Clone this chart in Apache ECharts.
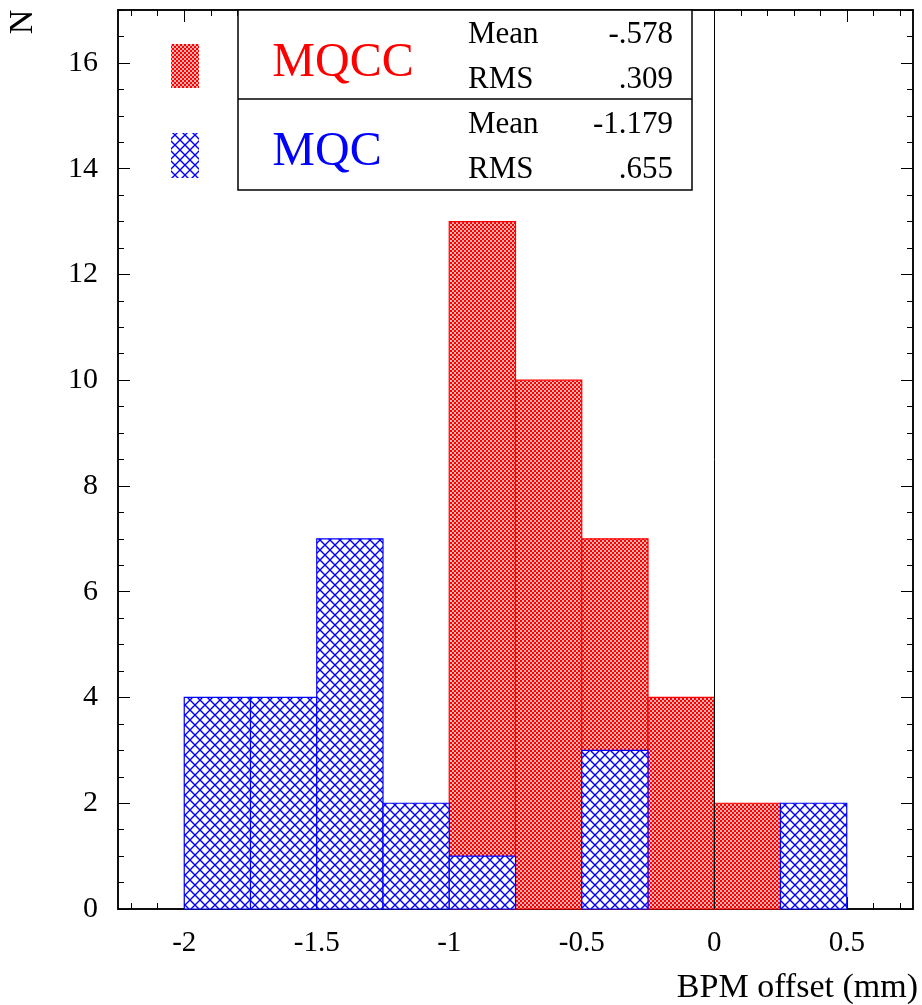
<!DOCTYPE html>
<html>
<head>
<meta charset="utf-8">
<script src="https://cdn.jsdelivr.net/npm/echarts@6/dist/echarts.min.js"></script>
<style>
  html, body { margin: 0; padding: 0; background: #fff; }
  #main { width: 922px; height: 1005px; }
</style>
</head>
<body>
<div id="main"></div>
<script>
// histogram bins (lower edges), width 0.25 mm
var binStart = [-2, -1.75, -1.5, -1.25, -1, -0.75, -0.5, -0.25, 0, 0.25]
var binWidth = 0.25
var mqccCounts = [0, 0, 0, 0, 13, 10, 7, 4, 2, 0]
var mqcCounts = [4, 4, 7, 2, 1, 0, 3, 0, 0, 2]

var xLabels = [-2, -1.5, -1, -0.5, 0, 0.5]
var yLabels = [0, 2, 4, 6, 8, 10, 12, 14, 16]

var statNames = ['MQCC', 'MQC']
var statMean = ['-.578', '-1.179']
var statRms = ['.309', '.655']

var FONT = '"Liberation Serif", "Times New Roman", serif'

// fill patterns like ROOT's hatch styles
function checkerPattern() {
  var c = document.createElement('canvas')
  c.width = 4; c.height = 4
  var ctx = c.getContext('2d')
  ctx.fillStyle = '#ffb0b0'
  ctx.fillRect(0, 0, 4, 4)
  ctx.fillStyle = '#ff0000'
  ctx.fillRect(0, 0, 2, 2)
  ctx.fillRect(2, 2, 2, 2)
  return { image: c, repeat: 'repeat' }
}
function crossPattern() {
  var c = document.createElement('canvas')
  c.width = 10; c.height = 10
  var ctx = c.getContext('2d')
  ctx.fillStyle = '#ffffff'
  ctx.fillRect(0, 0, 10, 10)
  ctx.strokeStyle = '#0000ff'
  ctx.lineWidth = 1.4
  ctx.beginPath()
  ctx.moveTo(0, 0); ctx.lineTo(10, 10)
  ctx.moveTo(10, 0); ctx.lineTo(0, 10)
  ctx.stroke()
  return { image: c, repeat: 'repeat' }
}
var redFill = checkerPattern()
var blueFill = crossPattern()

function histData(counts) {
  var out = []
  for (var i = 0; i < counts.length; i++) {
    out.push([binStart[i], binStart[i] + binWidth, counts[i]])
  }
  return out
}

function histItem(fill, stroke) {
  return function (params, api) {
    var n = api.value(2)
    if (!n) return null
    var p0 = api.coord([api.value(0), 0])
    var p1 = api.coord([api.value(1), n])
    return {
      type: 'rect',
      shape: { x: p0[0], y: p1[1], width: p1[0] - p0[0], height: p0[1] - p1[1] },
      style: { fill: fill, stroke: stroke, lineWidth: 1.2 }
    }
  }
}

// minor tick positions
var xMinor = []
for (var v = -22; v <= 7; v++) xMinor.push(v / 10)
var yMinor = []
for (var w = 0; w <= 34; w++) yMinor.push(w / 2)

function xAxisDef(pos, ticks, len, labels) {
  return {
    type: 'value', position: pos, min: -2.25, max: 0.75,
    axisLine: { show: true, onZero: false, lineStyle: { color: '#000', width: 1.5 } },
    axisTick: { show: true, inside: true, length: len, customValues: ticks, lineStyle: { color: '#000', width: 1 } },
    axisLabel: labels ? { show: true, customValues: ticks, margin: 20, color: '#000', fontFamily: FONT, fontSize: 29 } : { show: false },
    splitLine: { show: false }
  }
}
function yAxisDef(pos, ticks, len, labels) {
  return {
    type: 'value', position: pos, min: 0, max: 17,
    axisLine: { show: true, onZero: false, lineStyle: { color: '#000', width: 1.5 } },
    axisTick: { show: true, inside: true, length: len, customValues: ticks, lineStyle: { color: '#000', width: 1 } },
    axisLabel: labels ? { show: true, customValues: ticks, margin: 20, color: '#000', fontFamily: FONT, fontSize: 30 } : { show: false },
    splitLine: { show: false }
  }
}

var chart = echarts.init(document.getElementById('main'), null, { renderer: 'canvas' })

var option = {
  animation: false,
  backgroundColor: '#fff',
  grid: { left: 118, right: 9, top: 10, bottom: 96, containLabel: false },
  xAxis: [
    xAxisDef('bottom', xLabels, 12, true),
    xAxisDef('bottom', xMinor, 6, false),
    xAxisDef('top', xLabels, 12, false),
    xAxisDef('top', xMinor, 6, false)
  ],
  yAxis: [
    yAxisDef('left', yLabels, 12, true),
    yAxisDef('left', yMinor, 6, false),
    yAxisDef('right', yLabels, 12, false),
    yAxisDef('right', yMinor, 6, false)
  ],
  series: [
    {
      name: 'MQCC', type: 'custom', renderItem: histItem(redFill, '#ff0000'),
      data: histData(mqccCounts), xAxisIndex: 0, yAxisIndex: 0,
      markLine: {
        silent: true, symbol: 'none', label: { show: false },
        lineStyle: { color: '#000', width: 1, type: 'solid' },
        data: [{ xAxis: 0 }]
      }
    },
    {
      name: 'MQC', type: 'custom', renderItem: histItem(blueFill, '#0000ff'),
      data: histData(mqcCounts), xAxisIndex: 0, yAxisIndex: 0
    }
  ],
  graphic: [
    // stats box
    { type: 'rect', shape: { x: 238, y: 10, width: 454, height: 180 }, style: { fill: '#fff', stroke: '#000', lineWidth: 1.5 }, z: 10 },
    { type: 'line', shape: { x1: 238, y1: 99, x2: 692, y2: 99 }, style: { stroke: '#000', lineWidth: 1.5 }, z: 11 },
    { type: 'rect', shape: { x: 171, y: 44, width: 28, height: 44 }, style: { fill: redFill }, z: 11 },
    { type: 'rect', shape: { x: 171, y: 133, width: 28, height: 45 }, style: { fill: blueFill }, z: 11 },
    { type: 'text', x: 343, y: 63, z: 11, style: { text: statNames[0], fill: '#ff0000', font: '48px ' + FONT, align: 'center', verticalAlign: 'middle' } },
    { type: 'text', x: 327, y: 152, z: 11, style: { text: statNames[1], fill: '#0000ff', font: '48px ' + FONT, align: 'center', verticalAlign: 'middle' } },
    { type: 'text', x: 468, y: 35, z: 11, style: { text: 'Mean', fill: '#000', font: '31px ' + FONT, verticalAlign: 'middle' } },
    { type: 'text', x: 468, y: 80, z: 11, style: { text: 'RMS', fill: '#000', font: '31px ' + FONT, verticalAlign: 'middle' } },
    { type: 'text', x: 468, y: 125, z: 11, style: { text: 'Mean', fill: '#000', font: '31px ' + FONT, verticalAlign: 'middle' } },
    { type: 'text', x: 468, y: 170, z: 11, style: { text: 'RMS', fill: '#000', font: '31px ' + FONT, verticalAlign: 'middle' } },
    { type: 'text', x: 673, y: 35, z: 11, style: { text: statMean[0], fill: '#000', font: '31px ' + FONT, align: 'right', verticalAlign: 'middle' } },
    { type: 'text', x: 673, y: 80, z: 11, style: { text: statRms[0], fill: '#000', font: '31px ' + FONT, align: 'right', verticalAlign: 'middle' } },
    { type: 'text', x: 673, y: 125, z: 11, style: { text: statMean[1], fill: '#000', font: '31px ' + FONT, align: 'right', verticalAlign: 'middle' } },
    { type: 'text', x: 673, y: 170, z: 11, style: { text: statRms[1], fill: '#000', font: '31px ' + FONT, align: 'right', verticalAlign: 'middle' } },
    // axis titles
    { type: 'text', x: 918, y: 988, style: { text: 'BPM offset (mm)', fill: '#000', font: '34px ' + FONT, align: 'right', verticalAlign: 'middle' } },
    { type: 'text', x: 23, y: 22, rotation: Math.PI / 2, style: { text: 'N', fill: '#000', font: '34px ' + FONT, align: 'center', verticalAlign: 'middle' } }
  ]
}
option && chart.setOption(option)
</script>
</body>
</html>
